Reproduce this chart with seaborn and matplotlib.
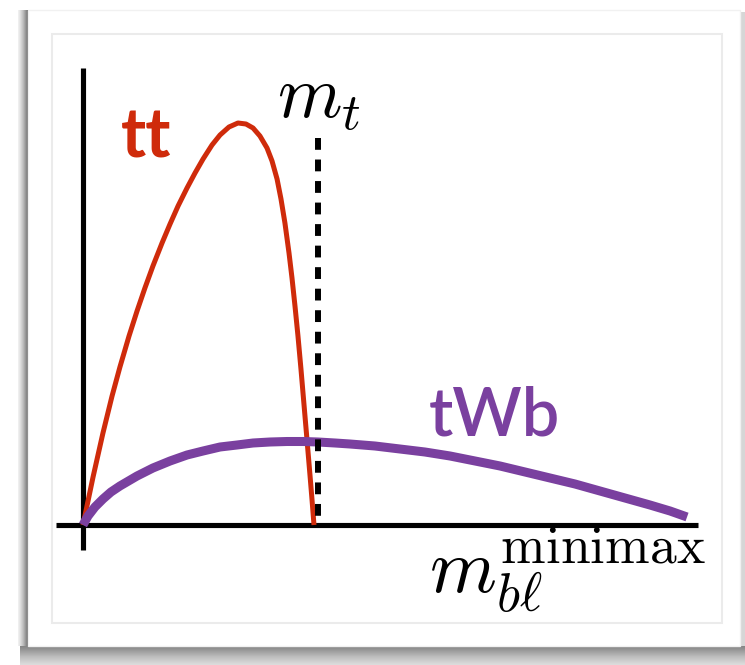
import numpy as np
import matplotlib
matplotlib.use("Agg")
import matplotlib.pyplot as plt
from matplotlib.patches import Rectangle
import seaborn as sns

# m_bl^minimax spectra (schematic): x in GeV, y in arbitrary units
tt_x = [0, 7.4, 14.7, 21.4, 27.2, 33.9, 39.8, 45.6, 51.5, 58.2, 64.1, 70.0, 76.6, 82.5,
        88.4, 95.0, 100.9, 107.5, 114.1, 120.0, 125.2, 130.3, 135.5, 139.2, 142.9,
        145.8, 148.7, 151.7, 153.9, 156.1, 158.3, 160.5, 162.7, 164.9, 167.2, 168.6, 170.1]
tt_y = [0, 0.48, 0.92, 1.29, 1.58, 1.89, 2.14, 2.37, 2.59, 2.82, 3.01, 3.19, 3.37, 3.52,
        3.66, 3.80, 3.90, 3.98, 4.02, 4.01, 3.97, 3.89, 3.77, 3.64, 3.46,
        3.26, 3.02, 2.72, 2.47, 2.19, 1.89, 1.56, 1.21, 0.86, 0.49, 0.26, 0.0]

twb_x = [0, 3.7, 8.8, 14.7, 20.6, 27.2, 39.8, 51.5, 64.1, 76.6, 88.4, 100.9, 113.4, 125.2,
         137.7, 150.2, 162.0, 173.0, 185.6, 196.6, 215.0, 233.4, 251.8, 270.3, 288.7,
         307.1, 325.5, 343.9, 362.3, 380.7, 399.1, 417.5, 432.3, 444.8]
twb_y = [0, 0.09, 0.18, 0.26, 0.33, 0.39, 0.49, 0.57, 0.64, 0.70, 0.74, 0.78, 0.80, 0.82,
         0.83, 0.835, 0.835, 0.83, 0.82, 0.81, 0.79, 0.76, 0.73, 0.69, 0.64,
         0.59, 0.53, 0.47, 0.41, 0.34, 0.27, 0.20, 0.14, 0.08]

m_top = 173.0
tt_label = "tt"
twb_label = "tWb"
mt_label = r"$m_t$"
xlabel = r"$m_{b\ell}^{\mathrm{minimax}}$"

RED = "#cf2b0b"
PURPLE = "#7a409f"

sns.set_theme(style="white")
plt.rcParams["mathtext.fontset"] = "cm"
plt.rcParams["lines.scale_dashes"] = False
plt.rcParams["font.family"] = ["Lato", "DejaVu Sans"]

W, H = 745, 665
fig = plt.figure(figsize=(W / 100, H / 100), dpi=100)
fig.patch.set_facecolor("white")

# card with drop shadow, drawn in pixel coordinates
bg = fig.add_axes([0, 0, 1, 1], zorder=0)
bg.set_xlim(0, W)
bg.set_ylim(H, 0)
bg.axis("off")
grad_v = np.linspace(0.0, 1.0, 40).reshape(-1, 1)
bg.imshow(grad_v, cmap="Greys_r", vmin=-1.0, vmax=1.6, extent=(20, W, H, 643),
          aspect="auto", interpolation="bilinear", zorder=0)
grad_h = np.linspace(1.0, 0.0, 20).reshape(1, -1)
bg.imshow(grad_h, cmap="Greys_r", vmin=-0.6, vmax=1.2, extent=(18, 29, 646, 10),
          aspect="auto", interpolation="bilinear", zorder=0)
bg.add_patch(Rectangle((740, 12), 5, 634, facecolor="#d6d6d6", edgecolor="none", zorder=0.5))
bg.add_patch(Rectangle((28, 10), 712, 636, facecolor="white", edgecolor="#f1f1f1", lw=1, zorder=1))
bg.add_patch(Rectangle((52, 34), 670, 589, facecolor="white", edgecolor="#ebebeb", lw=1.5, zorder=2))

# plotting axes: pixel x = 83 + 1.358*x, pixel y = 525 - 100*y
ax = fig.add_axes([0, 0, 1, 1], zorder=1)
ax.set_facecolor("none")
px_per_x = 1.358
ax.set_xlim(-83 / px_per_x, (W - 83) / px_per_x)
ax.set_ylim((525 - H) / 100, 525 / 100)
ax.axis("off")

# hand-drawn style axes
ax.plot([0, 0], [-0.25, 4.57], color="black", lw=3.7, solid_capstyle="butt", zorder=2)
ax.plot([-20, 453], [0, 0], color="black", lw=3.7, solid_capstyle="butt", zorder=2)

sns.lineplot(x=tt_x, y=tt_y, ax=ax, color=RED, lw=3.6, zorder=3, estimator=None)
sns.lineplot(x=twb_x, y=twb_y, ax=ax, color=PURPLE, lw=6.5, zorder=4, estimator=None)
for ln in ax.lines[-2:]:
    ln.set_solid_capstyle("butt")
    ln.set_solid_joinstyle("round")

# top-mass marker, dashes laid out from the top down
ax.plot([m_top, m_top], [3.87, 0], color="black", lw=4.3, dashes=(8.5, 7.0), zorder=5)

ax.text(28.0, 3.67, tt_label, color=RED, fontsize=49, fontweight="bold",
        ha="left", va="baseline", zorder=6)
ax.text(254.5, 0.90, twb_label, color=PURPLE, fontsize=48, fontweight="semibold",
        ha="left", va="baseline", zorder=6)
ax.text(143.0, 4.08, mt_label, color="black", fontsize=53, ha="left", va="baseline", zorder=6)
ax.text(254.5, -0.68, xlabel, color="black", fontsize=55, ha="left", va="baseline", zorder=6)

fig.savefig("out.png", dpi=100, facecolor=fig.get_facecolor())
